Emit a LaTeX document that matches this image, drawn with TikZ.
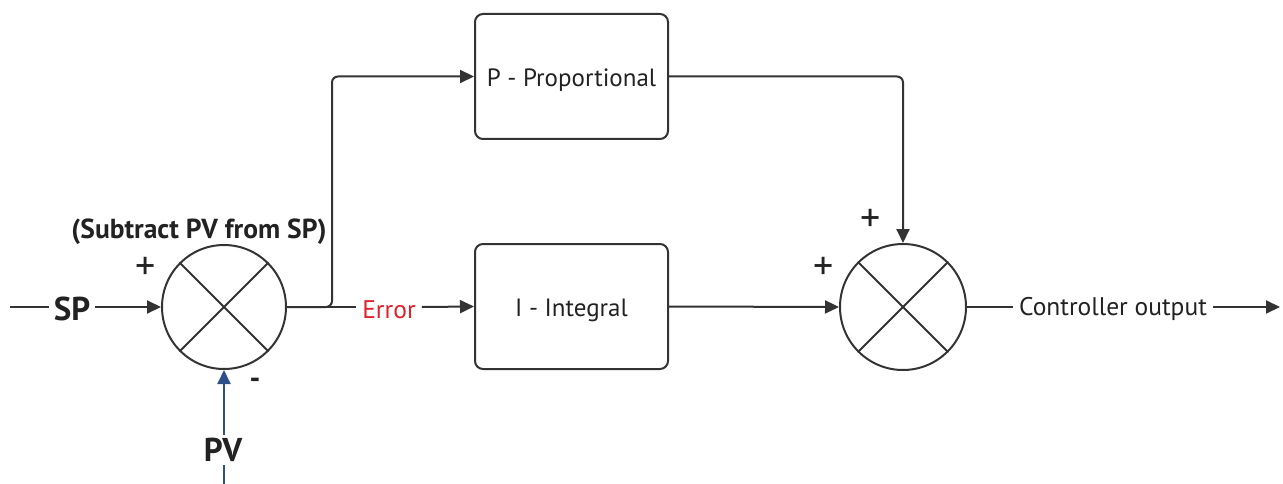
\documentclass[tikz,border=0pt]{standalone}
\usepackage{fontspec}
\setmainfont{PT Sans}
\usetikzlibrary{arrows.meta}
\definecolor{ln}{HTML}{333333}
\definecolor{tx}{HTML}{222222}
\definecolor{errred}{HTML}{E3202A}
\definecolor{pvblue}{HTML}{2F4F8A}
\tikzset{
  conn/.style={line width=2pt, draw=ln},
  arr/.style={conn, -{Triangle[length=14pt,width=13pt]}},
  sumnode/.style={circle, draw=ln, line width=2pt, minimum size=124pt, inner sep=0pt},
  blockbox/.style={draw=ln, line width=2pt, rounded corners=8pt, minimum width=193pt, minimum height=125pt, inner sep=0pt, text=tx, text height=26pt, text depth=6pt, font=\fontsize{25}{30}\selectfont},
  lbl/.style={text=tx, inner sep=5pt, font=\fontsize{25.5}{30}\selectfont},
  biglbl/.style={text=tx, inner sep=5pt, font=\bfseries\fontsize{33}{38}\selectfont},
  sign/.style={text=tx, inner sep=0pt, font=\fontsize{40}{44}\selectfont}
}
\begin{document}
\begin{tikzpicture}[x=1pt, y=-1pt]
\useasboundingbox (0,0) rectangle (1283,484);
% nodes
\node[sumnode] (s1) at (224,307) {};
\node[sumnode, minimum size=126pt] (s2) at (903,307) {};
\draw[conn] (s1.north west) -- (s1.south east) (s1.north east) -- (s1.south west);
\draw[conn] (s2.north west) -- (s2.south east) (s2.north east) -- (s2.south west);
\node[blockbox] (P) at (571.5,76.5) {P - Proportional};
\node[blockbox] (I) at (571.5,306.5) {I - Integral};
\node[biglbl] (sp) at (72,309) {SP};
\node[biglbl, inner sep=3pt] (pv) at (223,450) {PV};
\node[lbl, text=errred, inner sep=6pt] (err) at (389,310) {Error};
\node[lbl, inner sep=6pt] (out) at (1113,309) {Controller output};
\node[text=tx, font=\bfseries\fontsize{27.5}{32}\selectfont, inner sep=0pt] (sub) at (199,232) {(Subtract PV from SP)};
\node[sign] (p1) at (146,268) {+};
\node[sign, font=\bfseries\fontsize{30}{34}\selectfont] (m1) at (255,383) {-};
\node[sign] (p2) at (871,220) {+};
\node[sign] (p3) at (824,268) {+};
\coordinate (spstart) at (10,307);
\coordinate (pvend) at (224,484);
\coordinate (br) at (332,307);
\coordinate (outend) at (1280,307);
% connectors
\draw[conn] (spstart) -- (sp.west |- spstart);
\draw[arr] (sp.east |- spstart) -- (s1.west);
\draw[conn, draw=pvblue] (pvend) -- (pvend |- pv.south);
\draw[arr, draw=pvblue] (pvend |- pv.north) -- (s1.south);
\draw[conn] (s1.east) -- (err.west |- s1.east);
\draw[arr] (err.east |- s1.east) -- (I.west);
\draw[arr, rounded corners=6pt] (s1.east) -- (br) |- (P.west);
\draw[arr, rounded corners=6pt] (P.east) -| (s2.north);
\draw[arr] (I.east) -- (s2.west);
\draw[conn] (s2.east) -- (out.west |- s2.east);
\draw[arr] (out.east |- s2.east) -- (outend);
\end{tikzpicture}
\end{document}
